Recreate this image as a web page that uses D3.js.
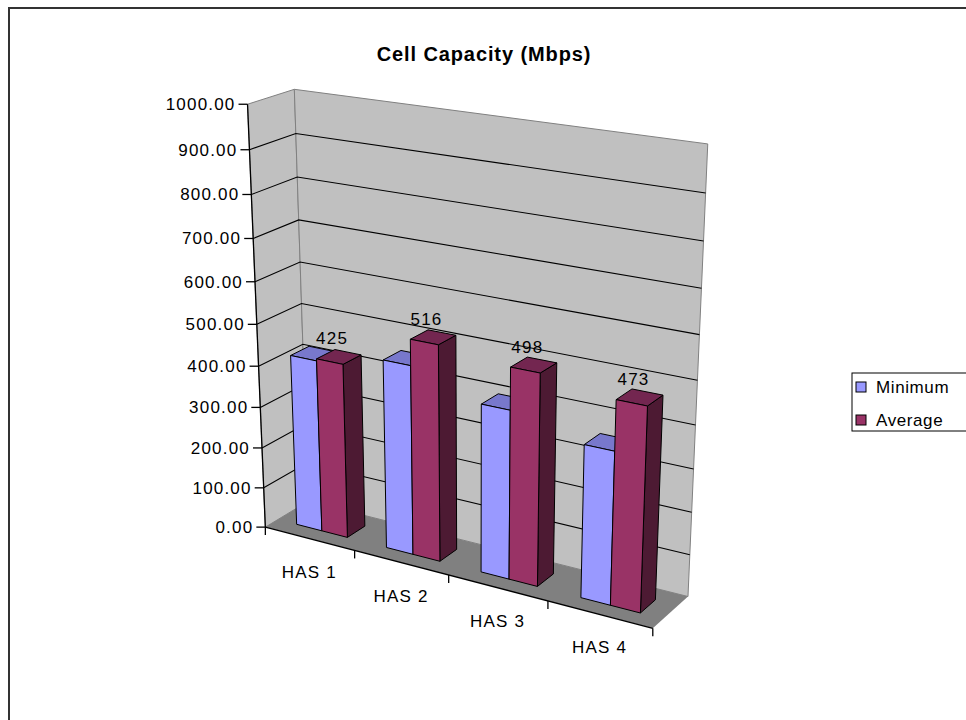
<!DOCTYPE html>
<html>
<head>
<meta charset="utf-8">
<script src="https://cdn.jsdelivr.net/npm/d3@7"></script>
<style>
  body { margin: 0; background: #fff; }
  svg { display: block; }
  text { font-family: "Liberation Sans", Arial, sans-serif; fill: #000; }
</style>
</head>
<body>
<svg id="chart" width="966" height="720"></svg>
<script>
// ---- data ----
const categories = ["HAS 1", "HAS 2", "HAS 3", "HAS 4"];
const seriesNames = ["Minimum", "Average"];
const minimum = [420, 455, 400, 358];
const average = [425, 516, 498, 473];
const valueDomain = [0, 1000];
const tickStep = 100;

// ---- styles ----
const faceColors = {
  Minimum: { front: "#9999ff", top: "#7878cc", side: "#5c5c99" },
  Average: { front: "#993366", top: "#732650", side: "#4d1a33" }
};
const wallFill = "#c0c0c0";
const floorFill = "#808080";
const labelFont = { size: "17px", spacing: "1.2px" };

const svg = d3.select("#chart");

// ---- perspective camera ----
// Screen anchors of the plot cube (X across categories 0..1, Y value 0..1, Z depth 0 front..1 back).
const cubeAnchors = [
  [[0, 1, 0], [247.5, 104]],
  [[0, 0.5, 0], [257, 325]],
  [[0, 0, 0], [265, 527]],
  [[0, 1, 1], [294, 89.5]],
  [[0, 0.5, 1], [302, 303]],
  [[1, 1, 1], [708, 144]],
  [[1, 0.5, 1], [697, 380]],
  [[1, 0, 1], [688, 597]],
  [[1, 0, 0], [653, 628]]
];

function fitCamera(pairs) {
  const rows = [], rhs = [];
  pairs.forEach(([[X, Y, Z], [u, v]]) => {
    rows.push([X, Y, Z, 1, 0, 0, 0, 0, -u * X, -u * Y, -u * Z]); rhs.push(u);
    rows.push([0, 0, 0, 0, X, Y, Z, 1, -v * X, -v * Y, -v * Z]); rhs.push(v);
  });
  const n = 11;
  const M = Array.from({ length: n }, () => new Array(n + 1).fill(0));
  rows.forEach((row, k) => {
    for (let i = 0; i < n; i++) {
      M[i][n] += row[i] * rhs[k];
      for (let j = 0; j < n; j++) M[i][j] += row[i] * row[j];
    }
  });
  for (let c = 0; c < n; c++) {
    let piv = c;
    for (let r = c + 1; r < n; r++) if (Math.abs(M[r][c]) > Math.abs(M[piv][c])) piv = r;
    [M[c], M[piv]] = [M[piv], M[c]];
    for (let r = 0; r < n; r++) {
      if (r === c) continue;
      const f = M[r][c] / M[c][c];
      for (let k = c; k <= n; k++) M[r][k] -= f * M[c][k];
    }
  }
  return M.map((row, i) => row[n] / row[i]);
}
const P = fitCamera(cubeAnchors);
function project(X, Y, Z) {
  const w = P[8] * X + P[9] * Y + P[10] * Z + 1;
  return [(P[0] * X + P[1] * Y + P[2] * Z + P[3]) / w,
          (P[4] * X + P[5] * Y + P[6] * Z + P[7]) / w];
}
const poly = pts => "M" + pts.map(p => project(...p).join(",")).join("L") + "Z";
const line = pts => "M" + pts.map(p => project(...p).join(",")).join("L");

// ---- scales ----
const y = d3.scaleLinear().domain(valueDomain).range([0, 1]);
const xCat = d3.scaleBand().domain(categories).range([0, 1]).paddingInner(0).paddingOuter(0);
const xSeries = d3.scaleBand().domain(seriesNames).range([0, xCat.bandwidth()])
  .paddingInner(0).paddingOuter(0.75);
const barDepth = [0.29, 0.71];
const ticks = d3.range(valueDomain[0], valueDomain[1] + tickStep, tickStep);
const fmt = d3.format(".2f");

const styleLabel = sel => sel.style("font-size", labelFont.size).style("letter-spacing", labelFont.spacing);

// ---- chart area border ----
svg.append("rect").attr("x", 9).attr("y", 8).attr("width", 1000).attr("height", 760)
  .attr("fill", "#fff").attr("stroke", "#333").attr("stroke-width", 2);

// ---- title ----
svg.append("text").attr("x", 484).attr("y", 61).attr("text-anchor", "middle")
  .style("font-size", "20px").style("font-weight", "bold").style("letter-spacing", "0.9px")
  .text("Cell Capacity (Mbps)");

// ---- walls and floor ----
const g = svg.append("g");
g.append("path").attr("d", poly([[0, 0, 0], [0, 1, 0], [0, 1, 1], [0, 0, 1]]))
  .attr("fill", wallFill).attr("stroke", "#808080").attr("stroke-width", 1);
g.append("path").attr("d", poly([[0, 0, 1], [0, 1, 1], [1, 1, 1], [1, 0, 1]]))
  .attr("fill", wallFill).attr("stroke", "#808080").attr("stroke-width", 1);
g.append("path").attr("d", poly([[0, 0, 0], [0, 0, 1], [1, 0, 1], [1, 0, 0]]))
  .attr("fill", floorFill).attr("stroke", "none");

// gridlines across left and back walls
g.selectAll(".grid").data(ticks.filter(t => t > valueDomain[0] && t < valueDomain[1]))
  .join("path").attr("class", "grid")
  .attr("d", t => line([[0, y(t), 0], [0, y(t), 1], [1, y(t), 1]]))
  .attr("fill", "none").attr("stroke", "#000").attr("stroke-width", 1.1);

// ---- value axis ----
g.append("path").attr("d", line([[0, 0, 0], [0, 1, 0]])).attr("stroke", "#000").attr("stroke-width", 1.3);
ticks.forEach(t => {
  const [px, py] = project(0, y(t), 0);
  g.append("line").attr("x1", px - 9).attr("x2", px).attr("y1", py).attr("y2", py)
    .attr("stroke", "#000").attr("stroke-width", 1.3);
  g.append("text").attr("x", px - 12).attr("y", py + 6).attr("text-anchor", "end")
    .call(styleLabel).text(fmt(t));
});

// ---- category axis ----
g.append("path").attr("d", line([[0, 0, 0], [1, 0, 0]])).attr("stroke", "#000").attr("stroke-width", 1.3);
d3.range(categories.length + 1).forEach(i => {
  const [px, py] = project(i / categories.length, 0, 0);
  g.append("line").attr("x1", px).attr("x2", px).attr("y1", py).attr("y2", py + 8)
    .attr("stroke", "#000").attr("stroke-width", 1.3);
});
categories.forEach(c => {
  const [px, py] = project(xCat(c) + xCat.bandwidth() / 2, 0, 0);
  g.append("text").attr("x", px).attr("y", py + 39).attr("text-anchor", "middle")
    .call(styleLabel).text(c);
});

// ---- bars ----
const values = { Minimum: minimum, Average: average };
categories.forEach((c, i) => {
  seriesNames.forEach(s => {
    const v = y(values[s][i]);
    const x0 = xCat(c) + xSeries(s), x1 = x0 + xSeries.bandwidth();
    const [z0, z1] = barDepth;
    const col = faceColors[s];
    const bar = g.append("g");
    bar.append("path").attr("d", poly([[x1, 0, z0], [x1, 0, z1], [x1, v, z1], [x1, v, z0]]))
      .attr("fill", col.side).attr("stroke", "#000").attr("stroke-width", 1).attr("stroke-linejoin", "round");
    bar.append("path").attr("d", poly([[x0, v, z0], [x1, v, z0], [x1, v, z1], [x0, v, z1]]))
      .attr("fill", col.top).attr("stroke", "#000").attr("stroke-width", 1).attr("stroke-linejoin", "round");
    bar.append("path").attr("d", poly([[x0, 0, z0], [x1, 0, z0], [x1, v, z0], [x0, v, z0]]))
      .attr("fill", col.front).attr("stroke", "#000").attr("stroke-width", 1).attr("stroke-linejoin", "round");
  });
});

// value labels above the Average bars
categories.forEach((c, i) => {
  const xc = xCat(c) + xSeries("Average") + xSeries.bandwidth() / 2;
  const [px, py] = project(xc, y(average[i]), barDepth[0] + 0.1);
  g.append("text").attr("x", px - 2).attr("y", py - 15).attr("text-anchor", "middle")
    .call(styleLabel).text(average[i]);
});

// ---- legend ----
const legend = svg.append("g").attr("transform", "translate(852,373)");
legend.append("rect").attr("width", 130).attr("height", 58).attr("fill", "#fff")
  .attr("stroke", "#000").attr("stroke-width", 1);
seriesNames.forEach((s, k) => {
  const row = legend.append("g").attr("transform", `translate(0,${14 + k * 33})`);
  row.append("rect").attr("x", 4).attr("y", -5).attr("width", 10).attr("height", 10)
    .attr("fill", faceColors[s].front).attr("stroke", "#000").attr("stroke-width", 1);
  row.append("text").attr("x", 24).attr("y", 6).style("font-size", "17px")
    .style("letter-spacing", "0.6px").text(s);
});
</script>
</body>
</html>
